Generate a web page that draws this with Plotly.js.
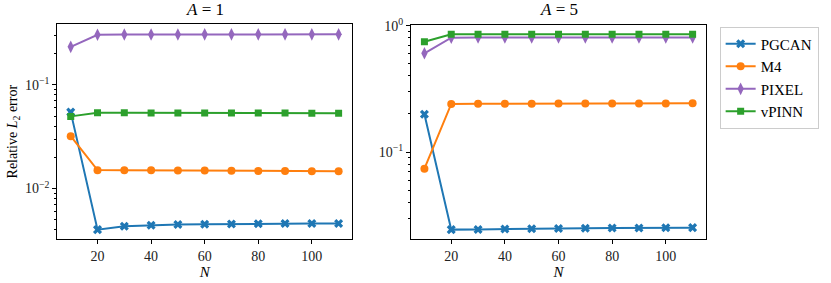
<!DOCTYPE html>
<html>
<head>
<meta charset="utf-8">
<script src="https://cdn.plot.ly/plotly-3.0.1.min.js"></script>
<style>html,body{margin:0;padding:0;background:#fff;}</style>
</head>
<body>
<div id="chart" style="width:831px;height:283px;"></div>
<script>
const N = [10, 20, 30, 40, 50, 60, 70, 80, 90, 100, 110];
const seriesNames = ['PGCAN', 'M4', 'PIXEL', 'vPINN'];

// A = 1
const pgcanA1 = [0.0545, 0.00402, 0.00433, 0.00443, 0.00450, 0.00453, 0.00456, 0.00459, 0.00460, 0.00460, 0.00460];
const m4A1    = [0.0320, 0.01505, 0.01500, 0.01498, 0.01494, 0.01490, 0.01485, 0.01480, 0.01476, 0.01472, 0.01469];
const pixelA1 = [0.232, 0.303, 0.305, 0.305, 0.305, 0.306, 0.306, 0.306, 0.306, 0.306, 0.306];
const vpinnA1 = [0.0496, 0.0537, 0.0537, 0.0536, 0.0536, 0.0535, 0.0535, 0.0534, 0.0534, 0.0533, 0.0533];

// A = 5
const pgcanA5 = [0.199, 0.0243, 0.0244, 0.0246, 0.0247, 0.0248, 0.0249, 0.0250, 0.0250, 0.0251, 0.0252];
const m4A5    = [0.0738, 0.240, 0.241, 0.241, 0.241, 0.242, 0.242, 0.242, 0.242, 0.242, 0.243];
const pixelA5 = [0.604, 0.803, 0.805, 0.805, 0.805, 0.805, 0.805, 0.805, 0.805, 0.805, 0.805];
const vpinnA5 = [0.746, 0.855, 0.856, 0.856, 0.856, 0.856, 0.856, 0.856, 0.856, 0.856, 0.856];

const xTicks = [20, 40, 60, 80, 100];
const yTicksA1 = [0.01, 0.1];
const yTextA1 = ['10<sup>−2</sup>', '10<sup>−1</sup>'];
const yMinorA1 = [0.004, 0.005, 0.006, 0.007, 0.008, 0.009, 0.02, 0.03, 0.04, 0.05, 0.06, 0.07, 0.08, 0.09, 0.2, 0.3];
const yTicksA5 = [0.1, 1];
const yTextA5 = ['10<sup>−1</sup>', '10<sup>0</sup>'];
const yMinorA5 = [0.03, 0.04, 0.05, 0.06, 0.07, 0.08, 0.09, 0.2, 0.3, 0.4, 0.5, 0.6, 0.7, 0.8, 0.9];

const colors = ['#1f77b4', '#ff7f0e', '#9467bd', '#2ca02c'];
const symbols = ['x', 'circle', 'diamond-tall', 'square'];
const sizes = [8, 8, 9, 7];

const FONT = '"Liberation Serif", "DejaVu Serif", serif';

function mk(y, i, xa, ya, showlegend) {
  return {
    x: N, y: y, xaxis: xa, yaxis: ya, type: 'scatter', mode: 'lines+markers',
    name: seriesNames[i], showlegend: showlegend, legendgroup: seriesNames[i],
    line: {color: colors[i], width: 2},
    marker: {color: colors[i], symbol: symbols[i], size: sizes[i], line: {width: 0}}
  };
}

const dataA1 = [pgcanA1, m4A1, pixelA1, vpinnA1];
const dataA5 = [pgcanA5, m4A5, pixelA5, vpinnA5];
const traces = [];
dataA1.forEach((d, i) => traces.push(mk(d, i, 'x', 'y', true)));
dataA5.forEach((d, i) => traces.push(mk(d, i, 'x2', 'y2', false)));

const axisBase = {
  showline: true, linecolor: '#000', linewidth: 1, mirror: true,
  ticks: 'outside', ticklen: 4, tickwidth: 1, tickcolor: '#000',
  showgrid: false, zeroline: false,
  tickfont: {family: FONT, size: 14, color: '#222'}
};

const layout = {
  width: 831, height: 283,
  margin: {l: 0, r: 0, t: 0, b: 0},
  paper_bgcolor: '#fff', plot_bgcolor: '#fff',
  font: {family: FONT, color: '#000'},
  xaxis: Object.assign({}, axisBase, {
    domain: [0.069, 0.4236], range: [5, 115], tickmode: 'array', tickvals: xTicks,
    anchor: 'y', title: {text: '<i>N</i>', font: {family: FONT, size: 15}, standoff: 2}
  }),
  yaxis: Object.assign({}, axisBase, {
    domain: [0.1544, 0.915], type: 'log', range: [-2.489, -0.415],
    tickmode: 'array', tickvals: yTicksA1, ticktext: yTextA1, anchor: 'x',
    minor: {tickmode: 'array', tickvals: yMinorA1, ticks: 'outside', ticklen: 2.5, tickcolor: '#000', showgrid: false},
    title: {text: 'Relative <i>L</i><sub>2</sub> error', font: {family: FONT, size: 14}, standoff: 4}
  }),
  xaxis2: Object.assign({}, axisBase, {
    domain: [0.4946, 0.8496], range: [5, 115], tickmode: 'array', tickvals: xTicks,
    anchor: 'y2', title: {text: '<i>N</i>', font: {family: FONT, size: 15}, standoff: 2}
  }),
  yaxis2: Object.assign({}, axisBase, {
    domain: [0.1544, 0.912], type: 'log', range: [-1.691, 0.006],
    tickmode: 'array', tickvals: yTicksA5, ticktext: yTextA5, anchor: 'x2',
    minor: {tickmode: 'array', tickvals: yMinorA5, ticks: 'outside', ticklen: 2.5, tickcolor: '#000', showgrid: false}
  }),
  legend: {
    x: 0.866, y: 0.906, xanchor: 'left', yanchor: 'top',
    bgcolor: '#fff', bordercolor: '#ccc', borderwidth: 1,
    font: {family: FONT, size: 15, color: '#000'},
    tracegroupgap: 0, itemwidth: 30
  },
  annotations: [
    {text: '<i>A</i> = 1', xref: 'paper', yref: 'paper', x: 0.2463, y: 0.925, xanchor: 'center', yanchor: 'bottom', showarrow: false, font: {family: FONT, size: 17, color: '#000'}},
    {text: '<i>A</i> = 5', xref: 'paper', yref: 'paper', x: 0.6721, y: 0.925, xanchor: 'center', yanchor: 'bottom', showarrow: false, font: {family: FONT, size: 17, color: '#000'}}
  ]
};

Plotly.newPlot('chart', traces, layout, {staticPlot: true, displayModeBar: false});
</script>
</body>
</html>
